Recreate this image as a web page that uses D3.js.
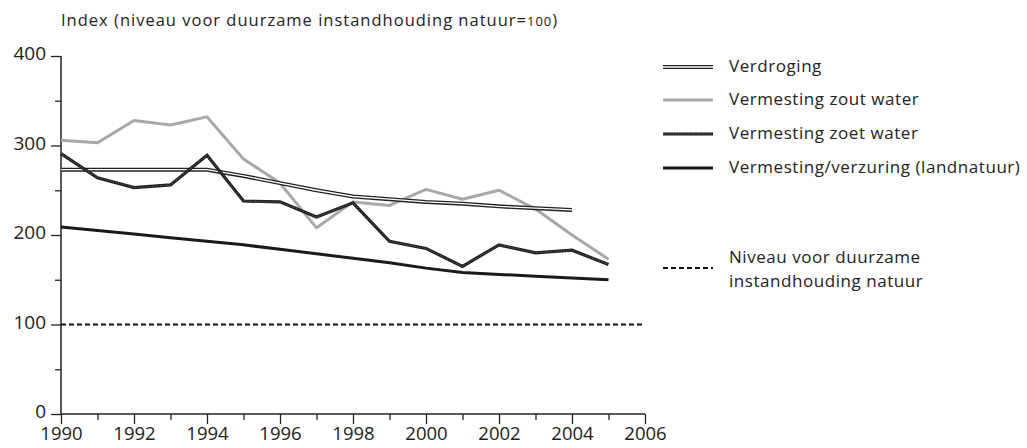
<!DOCTYPE html>
<html>
<head>
<meta charset="utf-8">
<script src="https://cdn.jsdelivr.net/npm/d3@7"></script>
<style>
  body { margin: 0; background: #fff; }
  svg { font-family: "Open Sans", "Noto Sans", sans-serif; }
</style>
</head>
<body>
<svg width="1027" height="448"></svg>
<script>
// data
const years = d3.range(1990, 2006);
const verdroging = [273, 273, 273, 273, 273, 266, 258, 250, 243, 240, 237, 235, 232, 230, 228, null];
const zoutWater = [306, 303, 328, 323, 332, 285, 258, 208, 237, 233, 251, 240, 250, 229, 200, 173];
const zoetWater = [291, 264, 253, 256, 289, 238, 237, 220, 236, 193, 185, 165, 189, 180, 183, 167];
const landnatuur = [209, 205, 201, 197, 193, 189, 184, 179, 174, 169, 163, 158, 156, 154, 152, 150];
const norm = 100;
const yTicks = [0, 100, 200, 300, 400];
const xTicks = [1990, 1992, 1994, 1996, 1998, 2000, 2002, 2004, 2006];
const legendLabels = ["Verdroging", "Vermesting zout water", "Vermesting zoet water", "Vermesting/verzuring (landnatuur)"];

const svg = d3.select("svg");
const x = d3.scaleLinear().domain([1990, 2006]).range([61, 645]);
const y = d3.scaleLinear().domain([0, 400]).range([414, 56]);
const ink = "#222";

// title
const title = svg.append("text").attr("x", 61).attr("y", 26)
  .attr("font-size", 16.5).attr("letter-spacing", 1).attr("fill", ink);
title.append("tspan").text("Index (niveau voor duurzame instandhouding natuur=");
title.append("tspan").attr("font-size", 13).text("100");
title.append("tspan").text(")");

// y axis: major ticks every 100, minor every 50
const yAxis = svg.append("g").attr("transform", `translate(${x(1990)},0)`)
  .call(d3.axisLeft(y).tickValues(d3.range(0, 401, 50)).tickSize(10).tickPadding(5)
    .tickFormat(d => yTicks.includes(d) ? d : ""));
yAxis.select(".domain").attr("stroke", ink).attr("stroke-width", 1.5).attr("d", `M0,${y(0)}V${y(400)}`);
yAxis.selectAll(".tick line").attr("stroke", ink).attr("stroke-width", 1.3)
  .attr("x2", d => yTicks.includes(d) ? -10 : -6);
yAxis.selectAll(".tick text").attr("font-size", 19).attr("fill", ink)
  .attr("font-family", "Open Sans, sans-serif").attr("dy", "0.2em");

// x axis: ticks every year, labels every two years
const xAxis = svg.append("g").attr("transform", `translate(0,${y(0)})`)
  .call(d3.axisBottom(x).tickValues(d3.range(1990, 2007)).tickSize(10)
    .tickFormat(d => xTicks.includes(d) ? d : ""));
xAxis.select(".domain").attr("stroke", ink).attr("stroke-width", 1.5).attr("d", `M${x(1990)},0H${x(2006)}`);
xAxis.selectAll(".tick line").attr("stroke", ink).attr("stroke-width", 1.3)
  .attr("y2", d => xTicks.includes(d) ? 10 : 6);
xAxis.selectAll(".tick text").attr("font-size", 18.5).attr("fill", ink)
  .attr("font-family", "Open Sans, sans-serif").attr("y", 13);

// series
const line = d3.line().defined(d => d[1] != null).x(d => x(d[0])).y(d => y(d[1]));
const pts = arr => years.map((yr, i) => [yr, arr[i]]);

// norm line
svg.append("path").attr("d", line([[1990, norm], [2006, norm]]))
  .attr("fill", "none").attr("stroke", "#111").attr("stroke-width", 2.2).attr("stroke-dasharray", "5,3");

svg.append("path").attr("d", line(pts(landnatuur)))
  .attr("fill", "none").attr("stroke", "#1a1a1a").attr("stroke-width", 3);

svg.append("path").attr("d", line(pts(zoutWater)))
  .attr("fill", "none").attr("stroke", "#a8a8a8").attr("stroke-width", 3).attr("stroke-linejoin", "round");

svg.append("path").attr("d", line(pts(verdroging)))
  .attr("fill", "none").attr("stroke", "#222").attr("stroke-width", 4);
svg.append("path").attr("d", line(pts(verdroging)))
  .attr("fill", "none").attr("stroke", "#fff").attr("stroke-width", 1.3);

svg.append("path").attr("d", line(pts(zoetWater)))
  .attr("fill", "none").attr("stroke", "#1e1e1e").attr("stroke-width", 3.2);
svg.append("path").attr("d", line(pts(zoetWater)))
  .attr("fill", "none").attr("stroke", "#888").attr("stroke-width", 0.8).attr("stroke-dasharray", "1,1.5");

// legend
const lx0 = 663, lx1 = 713, tx = 729;
const rows = [67, 100, 134, 168];
const drawSample = (i, yy) => {
  const g = svg.append("g");
  const seg = () => g.append("line").attr("x1", lx0).attr("x2", lx1).attr("y1", yy).attr("y2", yy);
  if (i === 0) {
    seg().attr("stroke", "#222").attr("stroke-width", 4);
    seg().attr("stroke", "#fff").attr("stroke-width", 1.3);
  } else if (i === 1) {
    seg().attr("stroke", "#a8a8a8").attr("stroke-width", 3);
  } else if (i === 2) {
    seg().attr("stroke", "#1e1e1e").attr("stroke-width", 3);
    seg().attr("stroke", "#888").attr("stroke-width", 0.8).attr("stroke-dasharray", "1,1.5");
  } else {
    seg().attr("stroke", "#1a1a1a").attr("stroke-width", 3);
  }
};
legendLabels.forEach((lab, i) => {
  drawSample(i, rows[i]);
  svg.append("text").attr("x", tx).attr("y", rows[i] + 5).attr("font-size", 17)
    .attr("letter-spacing", 0.55).attr("fill", ink).text(lab);
});
svg.append("line").attr("x1", lx0).attr("x2", lx1).attr("y1", 268).attr("y2", 268)
  .attr("stroke", "#111").attr("stroke-width", 2.2).attr("stroke-dasharray", "5,3");
svg.append("text").attr("x", tx).attr("y", 263).attr("font-size", 17).attr("letter-spacing", 0.55)
  .attr("fill", ink).text("Niveau voor duurzame");
svg.append("text").attr("x", tx).attr("y", 287).attr("font-size", 17).attr("letter-spacing", 0.55)
  .attr("fill", ink).text("instandhouding natuur");
</script>
</body>
</html>
